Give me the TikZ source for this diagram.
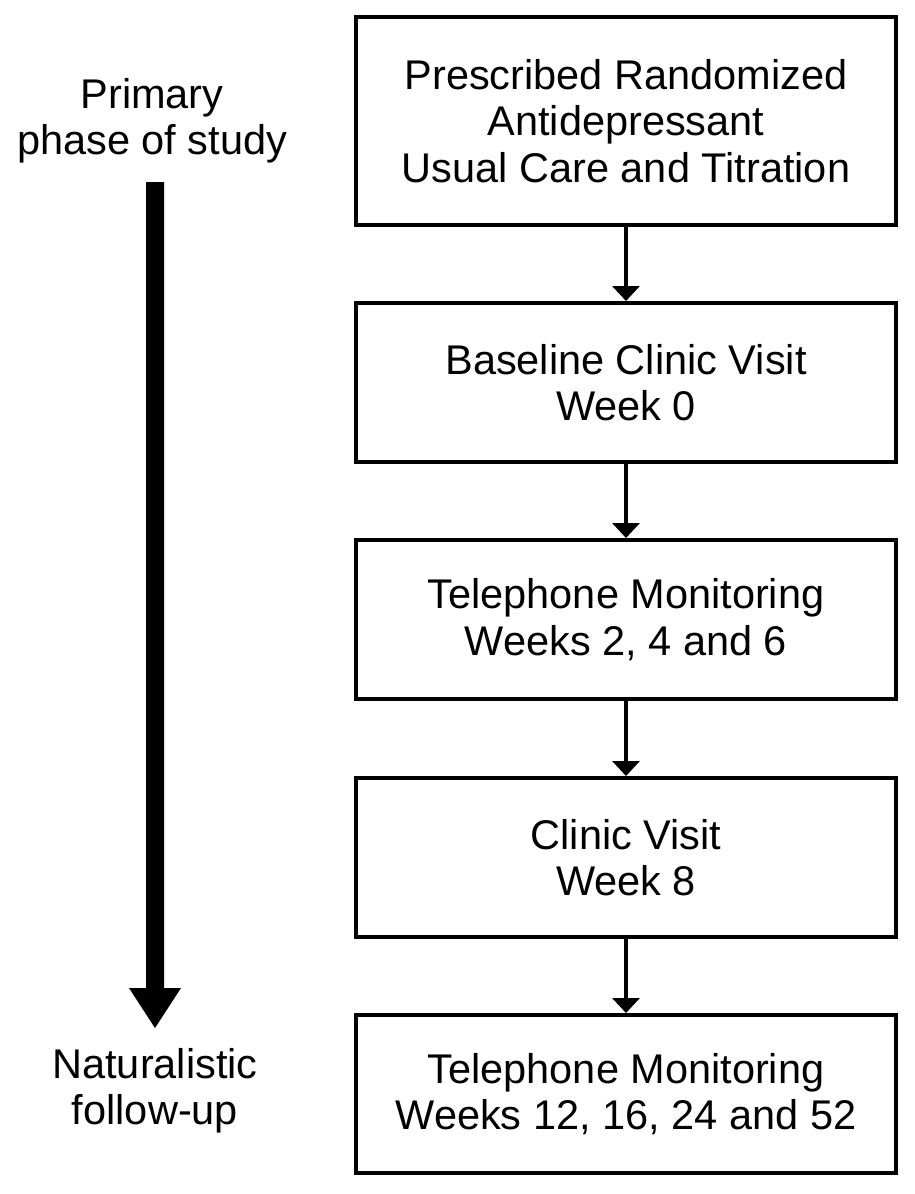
\documentclass[tikz,border=0pt]{standalone}
\usepackage{fontspec}
\setmainfont{Liberation Sans}
\usetikzlibrary{arrows.meta}
\begin{document}
\begin{tikzpicture}[x=1pt,y=-1pt,
  every node/.style={font=\fontsize{41.5}{46.5}\selectfont, align=center, inner sep=0pt},
  stagebox/.style={draw, line width=4pt, minimum width=540pt},
  flowarrow/.style={line width=3.5pt, -{Triangle[width=27pt,length=15pt]}}]
\useasboundingbox (0,0) rectangle (914,1194);
\fill[white] (0,0) rectangle (914,1194);
\node[stagebox, minimum height=208pt] (b1) at (626,121) {Prescribed Randomized\\Antidepressant\\Usual Care and Titration};
\node[stagebox, minimum height=159pt] (b2) at (626,382.5) {Baseline Clinic Visit\\Week 0};
\node[stagebox, minimum height=159pt] (b3) at (626,619.5) {Telephone Monitoring\\Weeks 2, 4 and 6};
\node[stagebox, minimum height=159pt] (b4) at (626,857.5) {Clinic Visit\\Week 8};
\node[stagebox, minimum height=158pt] (b5) at (626,1094) {Telephone Monitoring\\Weeks 12, 16, 24 and 52};
\draw[flowarrow] (b1.south) -- (b2.north);
\draw[flowarrow] (b2.south) -- (b3.north);
\draw[flowarrow] (b3.south) -- (b4.north);
\draw[flowarrow] (b4.south) -- (b5.north);
\node (primary) at (152,121) {Primary\\phase of study};
\node (natural) at (155,1091) {Naturalistic\\follow-up};
\fill (146,182) -- (164,182) -- (164,988) -- (181,988) -- (155,1028) -- (129,988) -- (146,988) -- cycle;
\end{tikzpicture}
\end{document}
